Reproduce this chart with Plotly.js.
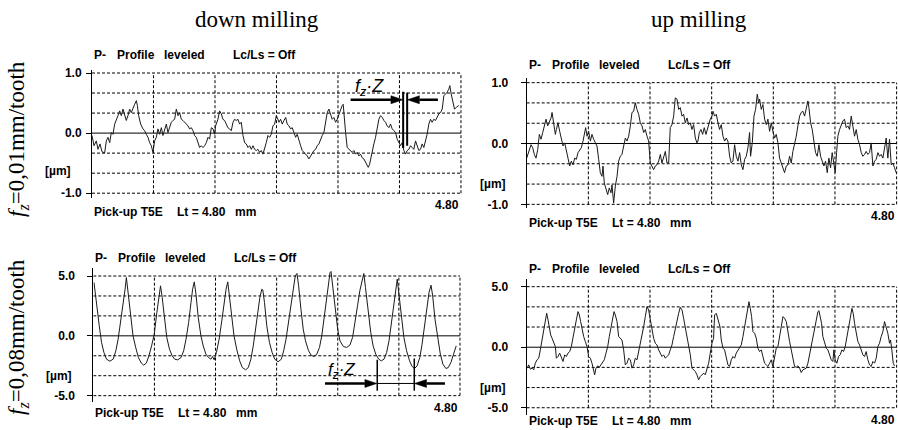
<!DOCTYPE html>
<html>
<head>
<meta charset="utf-8">
<script src="https://cdn.plot.ly/plotly-3.0.1.min.js"></script>
<style>
html,body{margin:0;padding:0;background:#fff;}
#chart{width:898px;height:430px;}
</style>
</head>
<body>
<div id="chart"></div>
<script>
// ---------- DATA (profile length in mm, height in µm) ----------
// down milling, fz = 0.01 mm/tooth
const downFineX = [0.000,0.026,0.056,0.078,0.104,0.130,0.165,0.186,0.208,0.230,0.251,0.273,0.295,0.316,0.338,0.360,0.381,0.403,0.425,0.446,0.468,0.490,0.511,0.533,0.555,0.577,0.590,0.607,0.633,0.663,0.685,0.707,0.728,0.750,0.772,0.793,0.815,0.837,0.858,0.880,0.902,0.923,0.945,0.967,0.988,1.010,1.032,1.053,1.075,1.097,1.119,1.140,1.162,1.184,1.205,1.227,1.249,1.270,1.292,1.314,1.335,1.357,1.379,1.400,1.422,1.444,1.465,1.487,1.509,1.530,1.552,1.574,1.595,1.608,1.638,1.660,1.682,1.703,1.725,1.747,1.768,1.790,1.812,1.834,1.855,1.877,1.899,1.920,1.942,1.964,1.986,2.007,2.029,2.051,2.072,2.094,2.116,2.137,2.159,2.181,2.202,2.224,2.246,2.267,2.289,2.311,2.332,2.354,2.376,2.398,
2.410,2.432,2.454,2.475,2.497,2.519,2.540,2.562,2.584,2.605,2.627,2.649,2.670,2.692,2.714,2.735,2.757,2.779,2.800,2.822,2.844,2.865,2.887,2.909,2.930,2.952,2.974,2.995,3.017,3.039,3.060,3.082,3.104,3.125,3.147,3.169,3.190,3.212,3.234,3.255,3.268,3.277,3.299,3.320,3.342,3.364,3.385,3.407,3.429,3.450,3.472,3.494,3.515,3.537,3.559,3.580,3.594,3.611,3.624,3.646,3.667,3.689,3.711,3.732,3.754,3.776,3.797,3.819,3.840,3.862,3.884,3.905,3.927,3.949,3.970,3.992,4.014,4.035,4.057,4.079,4.100,4.122,4.144,4.165,4.187,4.209,4.230,4.252,4.274,4.295,4.317,4.339,4.360,4.382,4.404,4.425,4.447,4.469,4.490,4.512,4.534,4.556,4.577,4.599,4.621,4.642,4.655,4.673,4.694,4.716,4.742,4.772];
const downFineY = [-0.04,-0.21,-0.13,-0.27,-0.18,-0.31,-0.33,-0.13,-0.07,-0.16,0.01,-0.02,0.15,0.21,0.29,0.37,0.29,0.40,0.32,0.21,0.29,0.40,0.34,0.43,0.48,0.54,0.46,0.29,0.15,0.07,0.04,-0.02,-0.07,-0.16,-0.21,-0.32,-0.13,-0.07,0.07,-0.02,0.09,-0.04,0.07,0.15,0.01,0.09,0.18,0.21,0.23,0.40,0.29,0.34,0.23,0.21,0.18,0.15,0.12,0.07,0.09,0.04,-0.04,-0.07,-0.18,-0.24,-0.21,-0.24,-0.21,-0.16,-0.07,-0.10,0.09,0.07,-0.02,0.12,0.23,0.37,0.32,0.23,0.21,0.15,0.09,0.07,0.04,0.18,0.23,0.21,0.23,0.15,0.18,-0.04,-0.16,-0.18,-0.24,-0.21,-0.27,-0.21,-0.27,-0.29,-0.27,-0.32,-0.29,-0.35,-0.27,-0.16,-0.04,-0.07,-0.02,0.12,0.15,0.29,
0.26,0.18,0.23,0.15,0.21,0.26,0.15,0.12,0.07,0.09,0.01,-0.07,-0.02,-0.13,-0.21,-0.29,-0.32,-0.35,-0.38,-0.43,-0.38,-0.35,-0.29,-0.27,-0.21,-0.18,-0.10,-0.04,0.01,0.15,0.34,0.40,0.32,0.23,0.26,0.18,0.23,0.32,0.40,0.46,0.48,0.29,0.01,-0.24,-0.27,-0.29,-0.32,-0.29,-0.35,-0.32,-0.38,-0.35,-0.41,-0.43,-0.49,-0.54,-0.57,-0.52,-0.43,-0.32,-0.18,-0.07,0.09,0.23,0.29,0.26,0.21,0.18,0.12,0.09,0.15,0.07,0.04,0.01,-0.10,-0.16,-0.21,-0.16,-0.29,-0.35,-0.29,-0.27,-0.21,-0.24,-0.27,-0.13,-0.21,-0.29,-0.27,-0.18,-0.24,-0.13,-0.02,0.15,0.23,0.18,0.23,0.21,0.26,0.32,0.34,0.40,0.62,0.65,0.68,0.73,0.79,0.65,0.51,0.40,0.43,0.46];

// up milling, fz = 0.01 mm/tooth
const upFineX = [0.000,0.017,0.035,0.056,0.078,0.099,0.121,0.143,0.164,0.186,0.208,0.229,0.251,0.272,0.294,0.316,0.329,0.350,0.372,0.385,0.406,0.428,0.450,0.471,0.493,0.514,0.536,0.558,0.579,0.601,0.623,0.644,0.666,0.687,0.709,0.731,0.752,0.765,0.783,0.804,0.826,0.847,0.869,0.891,0.912,0.934,0.955,0.977,0.990,1.007,1.029,1.051,1.072,1.094,1.107,1.128,1.150,1.172,1.193,1.215,1.236,1.258,1.280,1.301,1.323,1.345,1.366,1.388,1.409,1.431,1.453,1.474,1.496,1.518,1.539,1.561,1.582,1.604,1.626,1.647,1.669,1.690,1.712,1.734,1.755,1.777,1.799,1.820,1.842,1.863,1.885,1.907,1.928,1.950,1.972,1.993,2.015,2.036,2.058,2.080,2.101,2.123,2.144,2.166,2.188,2.209,2.222,2.240,2.261,2.283,2.304,2.326,2.343,2.361,2.382,2.404,
2.417,2.438,2.460,2.482,2.503,2.525,2.547,2.568,2.590,2.611,2.633,2.655,2.676,2.698,2.719,2.741,2.763,2.784,2.806,2.828,2.849,2.871,2.892,2.905,2.927,2.949,2.970,2.992,3.009,3.022,3.044,3.065,3.087,3.109,3.130,3.152,3.173,3.195,3.217,3.238,3.260,3.281,3.303,3.325,3.346,3.368,3.390,3.411,3.433,3.454,3.476,3.498,3.519,3.541,3.562,3.584,3.606,3.627,3.649,3.662,3.684,3.705,3.727,3.748,3.770,3.792,3.813,3.835,3.856,3.878,3.900,3.921,3.943,3.964,3.986,4.003,4.021,4.038,4.060,4.081,4.103,4.124,4.146,4.168,4.189,4.211,4.233,4.254,4.276,4.297,4.319,4.341,4.362,4.384,4.405,4.427,4.449,4.470,4.492,4.514,4.535,4.557,4.578,4.600,4.622,4.643,4.665,4.686,4.708,4.730,4.751,4.773,4.795];
const upFineY = [-0.24,-0.18,-0.13,-0.02,-0.07,-0.18,-0.24,-0.10,0.15,0.07,0.18,0.31,0.40,0.29,0.37,0.42,0.51,0.31,0.15,0.23,0.34,0.20,0.07,-0.04,0.01,-0.13,-0.24,-0.37,-0.29,-0.35,-0.24,-0.26,-0.15,-0.10,-0.07,0.04,0.15,0.26,0.12,0.20,0.04,0.15,0.07,0.01,-0.04,-0.26,-0.48,-0.54,-0.37,-0.65,-0.76,-0.84,-0.73,-0.81,-0.68,-0.98,-0.70,-0.54,-0.29,-0.21,-0.18,-0.04,0.09,0.04,0.12,0.29,0.51,0.53,0.67,0.56,0.48,0.34,0.29,0.18,0.23,0.12,0.04,-0.32,-0.37,-0.43,-0.37,-0.35,-0.29,-0.18,-0.32,-0.21,-0.13,-0.32,-0.32,0.26,0.31,0.45,0.75,0.73,0.56,0.59,0.45,0.48,0.34,0.42,0.31,0.34,0.23,0.31,0.09,0.01,0.04,0.18,0.23,0.15,0.26,0.15,0.23,0.29,0.40,0.45,
0.53,0.45,0.48,0.34,0.23,0.31,0.12,0.04,0.09,0.04,-0.21,-0.32,-0.29,-0.02,-0.21,-0.29,-0.15,-0.35,-0.43,-0.26,-0.21,-0.07,0.18,-0.21,0.01,0.45,0.56,0.81,0.67,0.73,0.56,0.64,0.40,0.31,0.40,0.20,0.34,0.20,0.09,0.15,0.01,-0.24,-0.32,-0.40,-0.48,-0.37,-0.35,-0.21,-0.32,-0.13,-0.02,0.12,0.29,0.45,0.51,0.53,0.45,0.59,0.70,0.59,0.34,0.23,-0.02,-0.15,-0.21,-0.02,-0.21,-0.29,-0.37,-0.29,-0.48,-0.24,-0.40,-0.15,-0.37,-0.48,-0.15,0.12,0.23,0.31,0.37,0.40,0.26,0.29,0.23,0.45,0.29,0.12,0.23,0.07,-0.02,-0.15,-0.21,-0.18,-0.13,-0.18,-0.15,0.01,-0.37,-0.29,-0.26,-0.15,-0.21,-0.18,-0.24,-0.10,0.09,-0.24,0.07,-0.35,-0.32,-0.40,-0.48];

// down milling, fz = 0.08 mm/tooth
const downCoarseX = [0.009,0.043,0.078,0.108,0.139,0.173,0.217,0.260,0.295,0.325,0.355,0.390,0.416,0.433,0.455,0.485,0.520,0.555,0.590,0.629,0.659,0.694,0.728,0.763,0.798,0.832,0.858,0.880,0.902,0.932,0.962,0.997,1.032,1.066,1.105,1.149,1.183,1.214,1.248,1.279,1.300,1.322,1.344,1.374,1.409,1.439,1.474,1.508,1.539,1.560,1.582,1.612,1.647,1.682,1.712,1.738,1.760,1.782,1.812,1.842,1.877,1.916,1.951,1.994,2.029,2.063,2.094,2.124,2.154,2.180,2.206,2.219,2.241,2.271,2.306,2.341,2.375,2.419,2.462,2.492,2.523,2.557,2.592,2.618,2.644,2.666,2.688,2.718,2.748,2.778,2.818,2.852,2.887,2.926,2.961,2.991,3.021,3.052,3.078,3.099,3.112,3.134,3.164,3.199,3.229,3.273,3.316,3.359,3.394,3.424,3.459,3.489,3.520,3.541,3.563,3.598,3.632,3.663,3.697,3.736,3.771,3.806,3.840,3.871,3.901,3.931,3.958,3.979,4.001,4.031,4.066,4.101,4.140,4.174,4.205,4.239,4.274,4.304,4.335,4.365,4.395,4.421,4.443,4.473,4.508,4.543,4.577,4.616,4.647,4.681,4.716,4.751];
const downCoarseY = [4.46,2.51,0.84,-0.56,-1.39,-1.95,-2.12,-1.95,-1.25,-0.28,0.97,2.79,3.90,4.87,3.62,1.67,0.00,-0.97,-1.81,-2.28,-2.45,-2.28,-1.67,-0.84,0.14,1.95,3.20,4.18,3.20,1.39,-0.14,-1.11,-1.67,-1.95,-2.01,-1.81,-1.25,-0.28,1.11,2.79,3.90,4.51,3.48,1.53,0.00,-0.84,-1.53,-1.81,-1.95,-1.73,-2.01,-1.39,-0.28,1.25,2.79,3.90,4.51,3.34,1.39,0.00,-1.11,-2.09,-2.65,-2.84,-2.65,-1.95,-0.84,0.56,2.23,3.20,3.90,3.84,2.79,0.84,-0.56,-1.39,-1.95,-2.17,-1.95,-1.25,-0.28,1.25,3.06,4.18,5.01,5.21,4.18,2.23,0.56,-0.42,-1.25,-1.62,-1.73,-1.53,-0.97,0.00,1.53,3.20,4.46,5.29,5.38,4.18,2.23,0.56,-0.42,-0.89,-0.97,-0.78,-0.14,0.97,2.51,3.76,4.74,5.21,4.04,1.95,0.28,-0.84,-1.53,-1.95,-2.09,-1.95,-1.39,-0.42,0.97,2.65,3.90,4.74,3.48,1.53,-0.14,-1.25,-2.09,-2.56,-2.73,-2.51,-1.81,-0.70,0.84,2.51,3.62,4.23,3.34,1.39,-0.28,-1.53,-2.37,-2.73,-2.65,-2.23,-1.53,-0.84];

// up milling, fz = 0.08 mm/tooth
const upCoarseX = [0.009,0.026,0.048,0.069,0.091,0.112,0.134,0.156,0.177,0.199,0.220,0.242,0.259,0.277,0.294,0.311,0.329,0.350,0.372,0.385,0.406,0.428,0.450,0.471,0.493,0.514,0.536,0.558,0.579,0.601,0.623,0.644,0.666,0.683,0.700,0.718,0.739,0.761,0.783,0.804,0.826,0.847,0.869,0.882,0.899,0.921,0.943,0.964,0.986,1.007,1.029,1.051,1.072,1.094,1.115,1.133,1.150,1.172,1.193,1.215,1.236,1.258,1.280,1.301,1.323,1.345,1.366,1.388,1.409,1.431,1.453,1.474,1.496,1.518,1.539,1.561,1.582,1.604,1.626,1.647,1.669,1.690,1.712,1.734,1.755,1.777,1.799,1.820,1.842,1.863,1.885,1.907,1.928,1.950,1.972,1.993,2.015,2.036,2.058,2.080,2.101,2.123,2.144,2.166,2.188,2.209,2.231,2.252,2.274,2.296,2.317,2.339,2.361,2.382,2.404,2.425,
2.438,2.460,2.473,2.490,2.508,2.525,2.547,2.568,2.590,2.611,2.633,2.655,2.676,2.698,2.719,2.741,2.763,2.784,2.806,2.828,2.849,2.871,2.884,2.901,2.918,2.936,2.957,2.979,3.000,3.022,3.044,3.065,3.087,3.109,3.130,3.152,3.173,3.195,3.217,3.238,3.260,3.281,3.303,3.325,3.346,3.368,3.390,3.411,3.433,3.454,3.476,3.498,3.519,3.541,3.562,3.584,3.606,3.627,3.649,3.671,3.692,3.714,3.735,3.757,3.779,3.792,3.809,3.826,3.843,3.865,3.887,3.908,3.930,3.952,3.973,3.986,4.003,4.025,4.047,4.068,4.090,4.111,4.133,4.155,4.176,4.198,4.220,4.237,4.254,4.276,4.297,4.319,4.341,4.362,4.384,4.405,4.427,4.449,4.470,4.492,4.514,4.535,4.557,4.578,4.600,4.622,4.643,4.665,4.686,4.708,4.721,4.738,4.756,4.773];
const upCoarseY = [-1.73,-1.46,-1.81,-1.73,-1.87,-1.32,-1.04,-0.91,-0.22,0.60,1.43,2.25,2.80,2.25,1.43,1.02,0.74,0.47,0.05,-0.91,-0.77,-0.49,-0.91,-1.18,-0.63,-0.77,-0.49,-0.36,0.05,0.88,1.57,2.25,2.94,2.66,2.12,1.43,0.88,0.47,0.05,-0.77,-0.91,-1.32,-2.14,-2.28,-1.73,-1.54,-1.65,-1.46,-1.32,-1.04,-0.49,0.05,0.88,1.70,2.39,2.94,2.66,2.12,0.88,0.74,0.60,-0.22,-1.46,-1.32,-0.91,-1.04,-1.73,-1.46,-0.91,-1.04,-0.36,0.19,0.88,1.70,2.53,3.35,3.08,2.25,1.57,0.74,0.33,0.19,-0.22,-0.49,-0.77,-0.63,-0.91,-0.77,-0.63,-0.22,0.19,0.88,1.57,2.39,2.80,3.30,3.08,2.39,1.57,1.02,0.19,-0.63,-1.73,-1.87,-2.01,-2.28,-2.69,-2.42,-2.28,-2.14,-2.28,-1.87,-1.32,-0.49,0.33,0.74,
2.66,2.80,2.53,2.12,1.70,0.60,-0.08,-0.22,-0.77,-1.46,-1.59,-1.04,-0.77,-0.91,-0.49,-0.22,0.05,0.19,0.88,1.70,2.53,3.35,3.76,3.21,2.53,1.29,1.15,0.74,-0.08,-0.36,-0.22,-0.77,-1.32,-1.46,-1.59,-1.32,-1.04,-1.59,-0.77,-0.08,0.05,0.74,1.70,2.53,2.39,2.12,1.15,0.47,-0.22,-1.04,-1.59,-1.65,-1.54,-1.73,-2.09,-1.87,-1.81,-1.73,-1.32,-0.63,-0.08,0.74,1.43,2.25,2.94,3.02,2.53,1.98,0.88,0.47,-0.08,-0.22,-0.63,-1.04,-1.18,-0.22,-1.04,-1.32,-0.77,-0.63,-0.22,-0.36,0.05,0.74,1.43,2.39,3.21,2.80,1.98,1.29,0.47,0.19,-0.22,-0.63,-0.77,-0.36,-1.04,-1.46,-1.59,-1.18,-1.32,-0.91,0.05,0.33,0.88,1.29,2.12,1.70,1.15,0.33,0.60,-0.22,-1.32,-1.54];

// axis / grid values and labels
const gridX = [0.8,1.6,2.4,3.2,4.0,4.8];
const fineGridY = [-1,-0.667,-0.333,0.333,0.667,1];
const coarseGridY = [-5,-3.333,-1.667,1.667,3.333,5];
const fineTickVals = [-1,0,1];
const fineTickText = ['-1.0','0.0','1.0'];
const coarseTickVals = [-5,0,5];
const coarseTickText = ['-5.0','0.0','5.0'];
const traverseLength = 4.8;
const traverseLabel = '4.80';
const columnTitles = ['down milling','up milling'];
const rowTitles = ['<i>f</i><sub><i>z</i></sub>=0,01mm/tooth','<i>f</i><sub><i>z</i></sub>=0,08mm/tooth'];
const headerTexts = ['P-','Profile','leveled','Lc/Ls = Off'];
const footerTexts = ['Pick-up T5E','Lt = 4.80','mm'];

// ---------- PANELS ----------
const W = 898, H = 430;
const px2x = p => p / W;
const px2y = p => 1 - p / H;

const panels = [
  {xs: downFineX, ys: downFineY, xa:'x', ya:'y', xdom:[92,462.5], ydom:[70,198], xr:[0,4.82], yr:[-1.08,1.05],
   grid: fineGridY, tv: fineTickVals, tt: fineTickText, ymax:1, standoff:2, umY:2, footY:-19},
  {xs: upFineX, ys: upFineY, xa:'x2', ya:'y2', xdom:[526.7,898], ydom:[78.4,208.3], xr:[0,4.818], yr:[-1.065,1.07],
   grid: fineGridY, tv: fineTickVals, tt: fineTickText, ymax:1, standoff:10, umY:0, footY:-19},
  {xs: downCoarseX, ys: downCoarseY, xa:'x3', ya:'y3', xdom:[93.3,461.5], ydom:[268,402], xr:[0,4.82], yr:[-5.53,5.67],
   grid: coarseGridY, tv: coarseTickVals, tt: coarseTickText, ymax:5, standoff:10, umY:0, footY:-17},
  {xs: upCoarseX, ys: upCoarseY, xa:'x4', ya:'y4', xdom:[526.7,898], ydom:[279.3,415], xr:[0,4.818], yr:[-5.6,5.61],
   grid: coarseGridY, tv: coarseTickVals, tt: coarseTickText, ymax:5, standoff:10, umY:0, footY:-13}
];

const boldFont = {family:'Liberation Sans, Arial, sans-serif', size:12, color:'#000'};
const traces = [];
const layout = {
  width: W, height: H,
  margin: {l:0, r:0, t:0, b:0},
  paper_bgcolor:'#fff', plot_bgcolor:'#fff',
  showlegend:false,
  shapes: [], annotations: []
};

panels.forEach(p => {
  traces.push({
    type:'scatter', mode:'lines', x:p.xs, y:p.ys, xaxis:p.xa, yaxis:p.ya,
    line:{color:'#1a1a1a', width:1}, hoverinfo:'skip'
  });
  const xk = p.xa === 'x' ? 'xaxis' : 'xaxis' + p.xa.slice(1);
  const yk = p.ya === 'y' ? 'yaxis' : 'yaxis' + p.ya.slice(1);
  layout[xk] = {
    domain:[px2x(p.xdom[0]), Math.min(1, px2x(p.xdom[1]))], range:p.xr, anchor:p.ya,
    showgrid:false, zeroline:false, showline:false, showticklabels:false, ticks:'', fixedrange:true
  };
  layout[yk] = {
    domain:[px2y(p.ydom[1]), px2y(p.ydom[0])], range:p.yr, anchor:p.xa,
    showgrid:false, zeroline:false, showline:true, linecolor:'#000', linewidth:1,
    tickmode:'array', tickvals:p.tv, ticktext:p.tt.map(t => '<b>' + t + '</b>'),
    ticks:'outside', ticklen:5, tickwidth:1, tickcolor:'#000',
    ticklabelstandoff:p.standoff,
    tickfont: boldFont, fixedrange:true
  };
  const ymin = p.grid[0], ymax = p.grid[p.grid.length - 1];
  gridX.forEach(v => layout.shapes.push({
    type:'line', xref:p.xa, yref:p.ya, x0:v, x1:v, y0:ymin, y1:ymax, layer:'below',
    line:{color:'#000', width:1, dash:'3px,2px'}
  }));
  p.grid.forEach(h => layout.shapes.push({
    type:'line', xref:p.xa, yref:p.ya, x0:0, x1:traverseLength, y0:h, y1:h, layer:'below',
    line:{color:'#000', width:1, dash:'3px,2px'}
  }));
  layout.shapes.push({
    type:'line', xref:p.xa, yref:p.ya, x0:0, x1:traverseLength, y0:0, y1:0, layer:'below',
    line:{color:'#000', width:1}
  });
  const hShift = [0, 23, 70, 139];
  headerTexts.forEach((t, i) => layout.annotations.push({
    xref:p.xa, yref:p.ya, x:0, y:p.ymax, xanchor:'left', yanchor:'middle',
    xshift:hShift[i], yshift:18, text:'<b>' + t + '</b>', showarrow:false, font:boldFont
  }));
  const fShift = [0, 83, 141];
  footerTexts.forEach((t, i) => layout.annotations.push({
    xref:p.xa, yref:p.ya, x:0, y:-p.ymax, xanchor:'left', yanchor:'middle',
    xshift:fShift[i], yshift:p.footY, text:'<b>' + t + '</b>', showarrow:false, font:boldFont
  }));
  layout.annotations.push({
    xref:p.xa, yref:p.ya, x:traverseLength, y:-p.ymax, xanchor:'right', yanchor:'middle',
    xshift:0, yshift:-12, text:'<b>' + traverseLabel + '</b>', showarrow:false, font:boldFont
  });
  layout.annotations.push({
    xref:p.xa, yref:p.ya, x:0, y:p.grid[1], xanchor:'right', yanchor:'middle',
    xshift:-19, yshift:p.umY, text:'<b>[µm]</b>', showarrow:false, font:boldFont
  });
  p.pxPerX = (p.xdom[1] - p.xdom[0]) / (p.xr[1] - p.xr[0]);
  p.pxPerY = (p.ydom[1] - p.ydom[0]) / (p.yr[1] - p.yr[0]);
});

// column and row titles
const serif = {family:'Liberation Serif, Times New Roman, serif', size:23, color:'#000'};
layout.annotations.push({xref:'paper', yref:'paper', x:px2x(257), y:px2y(20), xanchor:'center', yanchor:'middle', text:columnTitles[0], showarrow:false, font:serif});
layout.annotations.push({xref:'paper', yref:'paper', x:px2x(699), y:px2y(20), xanchor:'center', yanchor:'middle', text:columnTitles[1], showarrow:false, font:serif});
layout.annotations.push({xref:'paper', yref:'paper', x:px2x(18), y:px2y(139), xanchor:'center', yanchor:'middle', textangle:-90, text:rowTitles[0], showarrow:false, font:serif});
layout.annotations.push({xref:'paper', yref:'paper', x:px2x(18), y:px2y(337), xanchor:'center', yanchor:'middle', textangle:-90, text:rowTitles[1], showarrow:false, font:serif});

// f_z·Z markers drawn with shapes (arrow shaft + filled head)
const sansIt = size => ({family:'Liberation Sans, Arial, sans-serif', size:size, color:'#000'});
function seg(xa, ya, x0, y0, x1, y1, w) {
  layout.shapes.push({type:'line', xref:xa, yref:ya, x0:x0, x1:x1, y0:y0, y1:y1, line:{color:'#000', width:w}});
}
function arrow(p, tipX, tailX, y) {
  const dir = tipX > tailX ? 1 : -1;
  const hl = 12 / p.pxPerX, hh = 4 / p.pxPerY;
  const baseX = tipX - dir * hl;
  seg(p.xa, p.ya, tailX, y, baseX, y, 2.5);
  layout.shapes.push({type:'path', xref:p.xa, yref:p.ya,
    path:`M${tipX},${y} L${baseX},${y + hh} L${baseX},${y - hh} Z`,
    fillcolor:'#000', line:{color:'#000', width:0.5}});
}
const tl = panels[0], bl = panels[2];
// top-left
layout.annotations.push({xref:'x', yref:'y', x:3.615, y:0.76, xanchor:'center', yanchor:'middle', text:'<i>f<sub>z</sub>·Z</i>', showarrow:false, font:sansIt(18)});
arrow(tl, 4.045, 3.364, 0.555);
arrow(tl, 4.103, 4.50, 0.555);
seg('x','y', 4.048, 0.69, 4.048, -0.25, 2);
seg('x','y', 4.100, 0.67, 4.100, -0.21, 2);
// bottom-left
layout.annotations.push({xref:'x3', yref:'y3', x:3.246, y:-2.95, xanchor:'center', yanchor:'middle', text:'<i>f<sub>z</sub>·Z</i>', showarrow:false, font:sansIt(17)});
arrow(bl, 3.712, 3.033, -3.98);
arrow(bl, 4.205, 4.603, -3.98);
seg('x3','y3', 3.717, -2.0, 3.717, -4.6, 1.5);
seg('x3','y3', 4.202, -1.9, 4.202, -4.6, 1.5);
seg('x3','y3', 3.717, -3.98, 4.202, -3.98, 1);

Plotly.newPlot('chart', traces, layout, {staticPlot:true, displayModeBar:false});
</script>
</body>
</html>
